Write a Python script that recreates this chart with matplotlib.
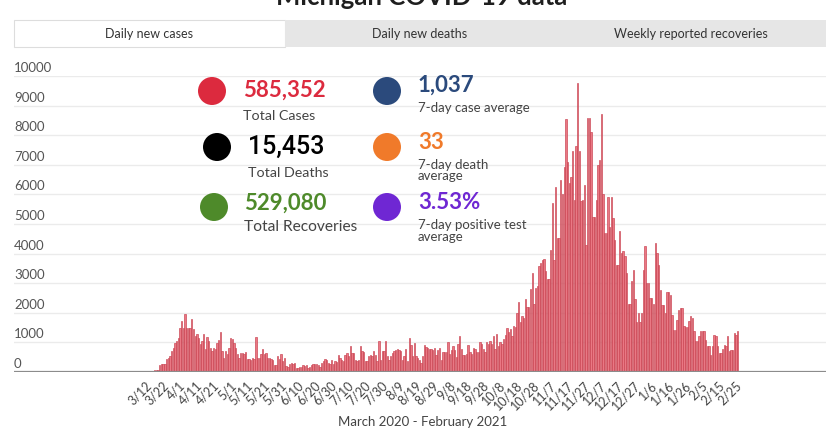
import matplotlib
matplotlib.use('Agg')
import matplotlib.pyplot as plt
from matplotlib import transforms
from matplotlib.patches import Ellipse, Rectangle

# ---------------- data ----------------
cases_mar_apr = [30, 40, 40, 50, 60, 60, 70, 240, 260, 280, 260, 430, 480, 540, 710, 820,
                 990, 1050, 1160, 1500, 1720, 1500, 1950, 1500, 1500, 1500, 1780, 1440, 1220,
                 1300, 1160, 930, 1050, 1270, 770, 1180, 1050, 820, 710, 820, 770, 990, 1070,
                 1360, 710, 480, 710, 600, 820, 1160, 1100, 990, 820, 600, 480]
cases_may_jul = [650, 650, 600, 680, 430, 430, 390, 480, 430, 1190, 480, 480, 620, 790, 600,
                 650, 480, 460, 430, 390, 240, 240, 540, 430, 600, 370, 480, 200, 170, 280,
                 320, 260, 320, 150, 150, 170, 170, 240, 200, 220, 150, 170, 240, 280, 260,
                 280, 240, 170, 320, 370, 430, 390, 320, 280, 390, 280, 370, 350, 570, 460]
cases_jul_aug = [420, 360, 590, 640, 530, 870, 640, 640, 390, 360, 420, 870, 700, 660, 360,
                 360, 530, 590, 530, 700, 590, 360, 1040, 420, 700, 700, 1040, 530, 420, 530,
                 640, 700, 750, 780, 750, 700, 420, 530, 780, 360, 1150, 920, 530, 980, 530,
                 470, 420, 300, 530, 920, 840, 810, 780, 780, 750, 810, 590, 750, 810, 420]
cases_sep_oct = [670, 670, 670, 1000, 610, 730, 890, 730, 500, 950, 1230, 780, 560, 580, 610,
                 920, 670, 610, 800, 780, 670, 690, 1000, 950, 780, 670, 1000, 950, 1060, 950,
                 1230, 780, 1280, 890, 1030, 950, 1120, 1250, 1470, 1340, 1450, 1210, 1560,
                 1510, 2010, 2370, 1680, 1900, 1840, 2460, 2180, 2180, 2790, 3350, 2290, 2850,
                 2900, 3570, 3690, 3800]
cases_nov_dec = [3820, 3400, 3130, 3130, 4130, 5700, 3800, 6250, 4520, 4520, 6480, 6030, 6930,
                 8550, 7090, 6370, 6590, 7480, 5810, 7620, 9770, 7480, 5790, 5810, 6310, 4300,
                 8580, 8580, 8100, 5250, 5250, 5810, 6980, 7170, 8710, 6030, 4690, 4690, 5920,
                 4910, 5920, 5190, 4470, 3630, 3630, 4750, 4020, 4080, 3910, 3350, 2290, 2290,
                 3070, 3460, 2460, 1680, 2010, 1680, 2010, 3460]
cases_jan_feb = [4240, 3000, 3000, 2500, 2500, 2310, 4360, 4020, 3630, 2780, 2270, 2270, 1990,
                 2690, 2690, 2610, 1940, 1430, 1430, 1750, 2080, 2160, 2160, 1540, 1520, 1520,
                 1710, 1880, 1820, 1370, 1040, 1040, 1200, 1370, 1400, 1400, 1090, 870, 890,
                 590, 890, 1260, 1230, 870, 640, 640, 790, 920, 870, 1230, 700, 750, 750, 1320,
                 1260, 1400]

tick_labels = ["3/12", "3/22", "4/1", "4/11", "4/21", "5/1", "5/11", "5/21", "5/31", "6/10",
               "6/20", "6/30", "7/10", "7/20", "7/30", "8/9", "8/19", "8/29", "9/8", "9/18",
               "9/28", "10/8", "10/18", "10/28", "11/7", "11/17", "11/27", "12/7", "12/17",
               "12/27", "1/6", "1/16", "1/26", "2/5", "2/15", "2/25"]
y_ticks = [0, 1000, 2000, 3000, 4000, 5000, 6000, 7000, 8000, 9000, 10000]

tabs = ["Daily new cases", "Daily new deaths", "Weekly reported recoveries"]
stat_values_left = ["585,352", "15,453", "529,080"]
stat_labels_left = ["Total Cases", "Total Deaths", "Total Recoveries"]
stat_values_right = ["1,037", "33", "3.53%"]
stat_labels_right = ["7-day case average", "7-day death\naverage", "7-day positive test\naverage"]
x_title = "March 2020 - February 2021"
chart_title = "Michigan COVID-19 data"

daily_cases = (cases_mar_apr + cases_may_jul + cases_jul_aug + cases_sep_oct
               + cases_nov_dec + cases_jan_feb)

# ---------------- figure ----------------
W, H = 840, 440
FONT = 'Lato'
fig = plt.figure(figsize=(W / 100, H / 100), dpi=100)
fig.patch.set_facecolor('white')


def fx(x):
    return x / W


def fy(y):
    return 1 - y / H


ax_left, ax_right, ax_top, ax_bottom = 14, 826, 76, 372
ax = fig.add_axes([fx(ax_left), fy(ax_bottom), (ax_right - ax_left) / W, (ax_bottom - ax_top) / H])
px_per_day = 1.685
first_bar_px = 148
ax.set_xlim((ax_left - first_bar_px) / px_per_day, (ax_right - first_bar_px) / px_per_day)
ax.set_ylim(0, 10000)

positions = list(range(len(daily_cases)))
ax.bar(positions, daily_cases, width=0.8, color='#ea7884', edgecolor='#c8404f',
       linewidth=0.45, zorder=3)

for s in ax.spines.values():
    s.set_visible(False)
ax.axhline(0, color='#8c8c8c', linewidth=1.6, zorder=4)

ax.set_yticks(y_ticks)
ax.yaxis.grid(True, color='#ebebeb', linewidth=1.0, zorder=0)
ax.set_yticklabels([])
ax.tick_params(axis='y', length=0)
off = transforms.offset_copy(transforms.blended_transform_factory(ax.transAxes, ax.transData),
                             fig=fig, x=0, y=4, units='dots')
for v in y_ticks:
    ax.text(0, v, str(v), transform=off, ha='left', va='baseline', fontsize=9.5,
            color='#555555', family=FONT)

tick_pos = [1 + 10 * k for k in range(len(tick_labels))]
ax.set_xticks(tick_pos)
ax.set_xticklabels(tick_labels, rotation=45, ha='right', va='center', rotation_mode='anchor',
                   fontsize=9, color='#444444', family=FONT)
ax.tick_params(axis='x', length=0, pad=8)

fig.text(fx(423), fy(422), x_title, ha='center', va='center', fontsize=9.5,
         color='#444444', family=FONT)

# title (cut at the top, as in the source)
fig.text(fx(422), fy(5), chart_title, ha='center', va='baseline', fontsize=18.5,
         fontweight='bold', color='#1e1e1e', family=FONT)

# tabs
tab_w = (ax_right - ax_left) / 3
for i, t in enumerate(tabs):
    x0 = ax_left + i * tab_w
    if i == 0:
        fig.add_artist(Rectangle((fx(x0), fy(47)), tab_w / W, 27 / H, transform=fig.transFigure,
                                 facecolor='white', edgecolor='#dddddd', linewidth=0.8))
    else:
        fig.add_artist(Rectangle((fx(x0), fy(47)), tab_w / W, 27 / H, transform=fig.transFigure,
                                 facecolor='#e6e6e6', edgecolor='none'))
    fig.text(fx(x0 + tab_w / 2), fy(33.5), t, ha='center', va='center', fontsize=9,
             color='#333333', family=FONT)


# stats block
def circle(cx, cy, r, color):
    fig.add_artist(Ellipse((fx(cx), fy(cy)), 2 * r / W, 2 * r / H, transform=fig.transFigure,
                           facecolor=color, edgecolor='none', zorder=5))


left_colors = ['#dc2a3e', '#000000', '#4e8a2a']
left_circles = [(212, 91), (217, 147), (214, 207)]
left_val_pos = [(243, 90), (248, 147), (244, 203)]
left_lab_pos = [(243, 116), (248, 173), (244, 227)]
left_fonts = [FONT, 'Roboto', FONT]
left_weights = ['bold', 'medium', 'bold']
left_val_sizes = [16, 18, 16]
left_lab_sizes = [10.3, 10.3, 11.2]
for i in range(3):
    circle(*left_circles[i], 14, left_colors[i])
    fig.text(fx(left_val_pos[i][0]), fy(left_val_pos[i][1]), stat_values_left[i], ha='left',
             va='center', fontsize=left_val_sizes[i], fontweight=left_weights[i],
             color=left_colors[i], family=left_fonts[i], zorder=6)
    fig.text(fx(left_lab_pos[i][0]), fy(left_lab_pos[i][1]), stat_labels_left[i], ha='left',
             va='center', fontsize=left_lab_sizes[i], color='#444444', family=FONT, zorder=6)

right_colors = ['#2b4a7c', '#f07a2a', '#6f27d3']
right_circles = [(387, 91), (387, 147), (387, 207)]
right_val_pos = [(418, 85), (418, 142), (418, 202)]
right_lab_top = [102, 159, 219]
for i in range(3):
    circle(*right_circles[i], 14, right_colors[i])
    fig.text(fx(right_val_pos[i][0]), fy(right_val_pos[i][1]), stat_values_right[i], ha='left',
             va='center', fontsize=16, fontweight='bold', color=right_colors[i],
             family=FONT, zorder=6)
    fig.text(fx(418), fy(right_lab_top[i]), stat_labels_right[i], ha='left', va='top',
             fontsize=9.5, color='#444444', family=FONT, linespacing=0.95, zorder=6)

fig.savefig('out.png', dpi=100, facecolor='white')
